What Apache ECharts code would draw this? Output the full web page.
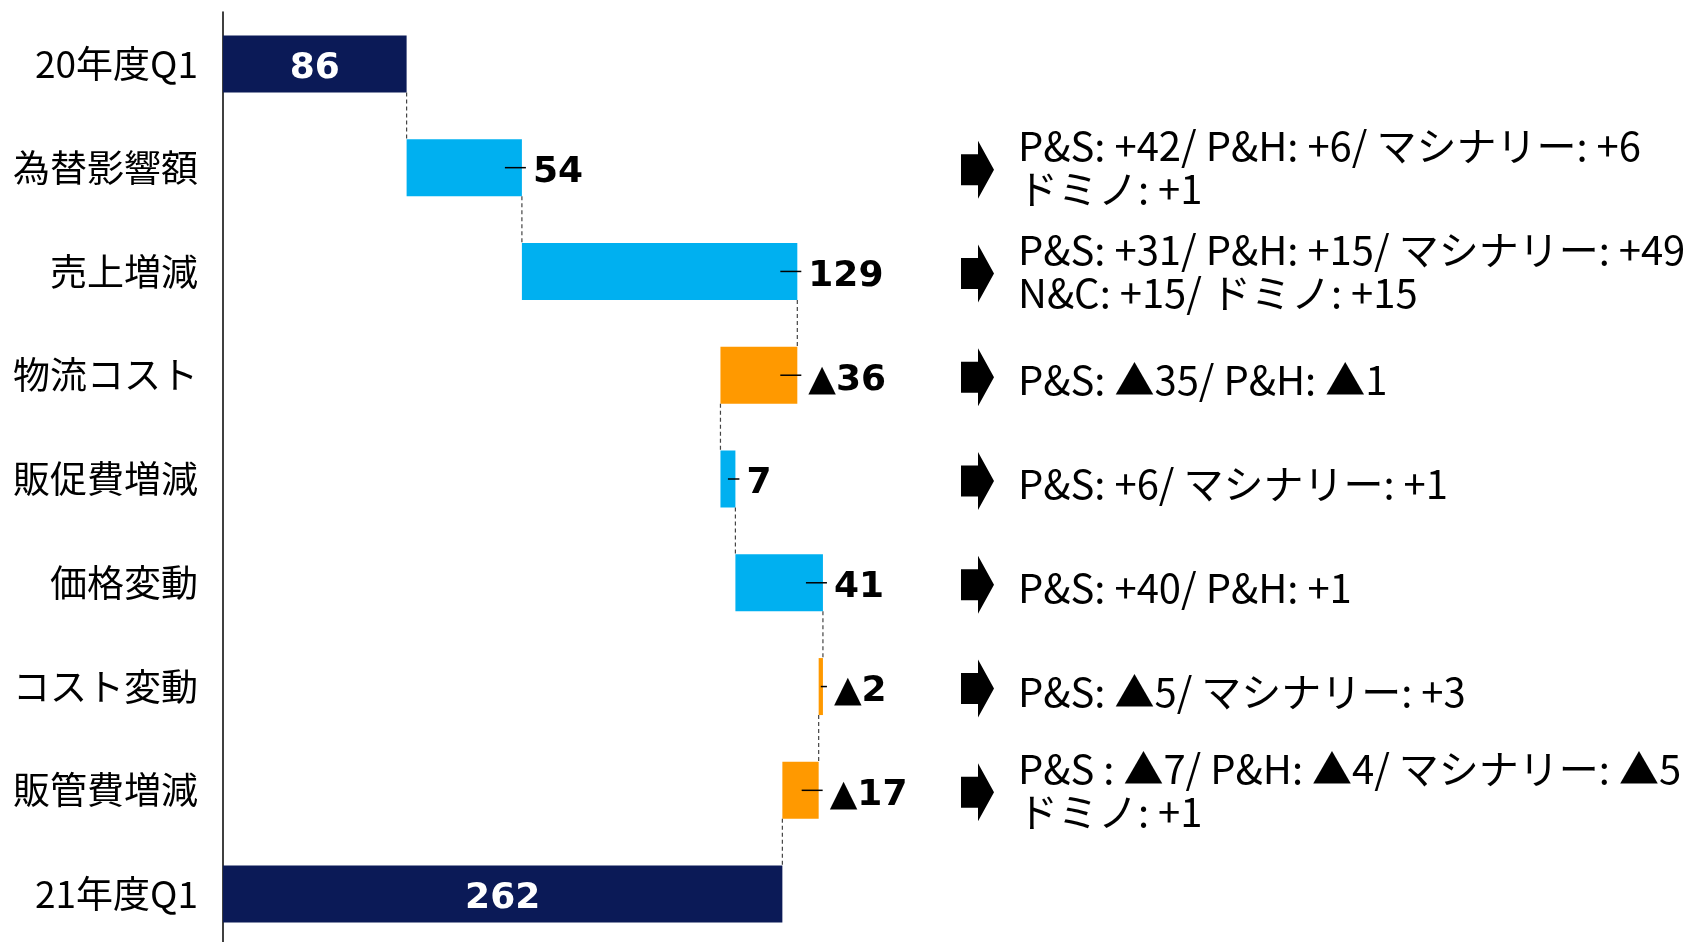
<!DOCTYPE html>
<html>
<head>
<meta charset="utf-8">
<script src="https://cdn.jsdelivr.net/npm/echarts@6/dist/echarts.min.js"></script>
<style>
  html, body { margin: 0; padding: 0; background: #fff; overflow: hidden; }
  #chart { width: 1686px; height: 950px; }
</style>
</head>
<body>
<div id="chart"></div>
<script>
const categories = ['20年度Q1', '為替影響額', '売上増減', '物流コスト', '販促費増減', '価格変動', 'コスト変動', '販管費増減', '21年度Q1']
const changes = [86, 54, 129, -36, 7, 41, -2, -17, 262]
const isTotal = [true, false, false, false, false, false, false, false, true]
const notes = [
  '',
  'P&S: +42/ P&H: +6/ マシナリー: +6\nドミノ: +1',
  'P&S: +31/ P&H: +15/ マシナリー: +49\nN&C: +15/ ドミノ: +15',
  'P&S: ▲35/ P&H: ▲1',
  'P&S: +6/ マシナリー: +1',
  'P&S: +40/ P&H: +1',
  'P&S: ▲5/ マシナリー: +3',
  'P&S : ▲7/ P&H: ▲4/ マシナリー: ▲5\nドミノ: +1',
  '',
]

const NAVY = '#0b1a57'
const BLUE = '#00b0f0'
const ORANGE = '#ff9900'
const fontJP = '"Noto Sans CJK JP", "Noto Sans", sans-serif'
const fontNum = '"DejaVu Sans", Verdana, sans-serif'
const BAR_H = 57

// waterfall: left edge, length, running total after each step
const bases = []
const lengths = []
const cums = []
let run = 0
changes.forEach((v, i) => {
  if (isTotal[i]) {
    bases.push(0)
    lengths.push(v)
    run = v
  } else if (v >= 0) {
    bases.push(run)
    lengths.push(v)
    run += v
  } else {
    bases.push(run + v)
    lengths.push(-v)
    run += v
  }
  cums.push(run)
})

const labelText = v => (v < 0 ? '▲' + Math.abs(v) : String(v))

const chart = echarts.init(document.getElementById('chart'))

chart.setOption({
  backgroundColor: '#fff',
  animation: false,
  grid: { left: 223, width: 640.5, top: 12, height: 934 },
  xAxis: { type: 'value', min: 0, max: 300, show: false },
  yAxis: {
    type: 'category',
    inverse: true,
    data: categories,
    axisLine: { show: true, lineStyle: { color: '#000', width: 1.5 } },
    axisTick: { show: false },
    axisLabel: { color: '#000', fontSize: 37, fontFamily: fontJP, margin: 25 },
  },
  series: [
    {
      name: 'base',
      type: 'bar',
      stack: 'w',
      barWidth: BAR_H,
      silent: true,
      itemStyle: { color: 'transparent' },
      data: bases,
    },
    {
      name: 'value',
      type: 'bar',
      stack: 'w',
      barWidth: BAR_H,
      data: lengths.map((len, i) => ({
        value: len,
        itemStyle: { color: isTotal[i] ? NAVY : changes[i] >= 0 ? BLUE : ORANGE },
        label: isTotal[i]
          ? { show: true, position: 'inside', color: '#fff' }
          : { show: true, position: 'right', distance: 11, color: '#000' },
      })),
      label: {
        formatter: p => labelText(changes[p.dataIndex]),
        fontFamily: fontNum,
        fontWeight: 'bold',
        fontSize: 36,
        offset: [0, 5],
      },
    },
    {
      // dashed connectors and small leader ticks
      name: 'links',
      type: 'custom',
      clip: false,
      silent: true,
      z: 5,
      data: categories.map((c, i) => [0, i]),
      encode: { x: 0, y: 1 },
      renderItem: (params, api) => {
        const i = params.dataIndex
        const children = []
        const yc = api.coord([0, i])[1]
        if (i < categories.length - 1) {
          const x = api.coord([cums[i], i])[0]
          const y2 = api.coord([0, i + 1])[1]
          children.push({
            type: 'line',
            shape: { x1: x, y1: yc + BAR_H / 2, x2: x, y2: y2 - BAR_H / 2 },
            style: { stroke: '#444', lineWidth: 1.2, lineDash: [4, 3] },
          })
        }
        if (!isTotal[i]) {
          const left = api.coord([bases[i], i])[0]
          const right = api.coord([bases[i] + lengths[i], i])[0]
          const start = Math.max(right - 17, (left + right) / 2)
          children.push({
            type: 'line',
            shape: { x1: start, y1: yc, x2: right + 4, y2: yc },
            style: { stroke: '#000', lineWidth: 1.5 },
          })
        }
        return { type: 'group', children }
      },
    },
    {
      // arrows and breakdown notes on the right
      name: 'notes',
      type: 'custom',
      clip: false,
      silent: true,
      data: categories.map((c, i) => [0, i]),
      encode: { x: 0, y: 1 },
      renderItem: (params, api) => {
        const i = params.dataIndex
        if (!notes[i]) return null
        const yc = api.coord([0, i])[1]
        const ay = yc + 2
        const twoLines = notes[i].indexOf('\n') >= 0
        return {
          type: 'group',
          children: [
            {
              type: 'polygon',
              shape: {
                points: [
                  [961, ay - 15.5], [978, ay - 15.5], [978, ay - 29], [994, ay],
                  [978, ay + 29], [978, ay + 15.5], [961, ay + 15.5],
                ],
              },
              style: { fill: '#000' },
            },
            {
              type: 'text',
              style: {
                text: notes[i],
                x: 1018,
                y: yc + (twoLines ? 0 : 5),
                align: 'left',
                verticalAlign: 'middle',
                fill: '#000',
                fontSize: 40,
                fontFamily: fontJP,
                lineHeight: 43,
              },
            },
          ],
        }
      },
    },
  ],
})
</script>
</body>
</html>
